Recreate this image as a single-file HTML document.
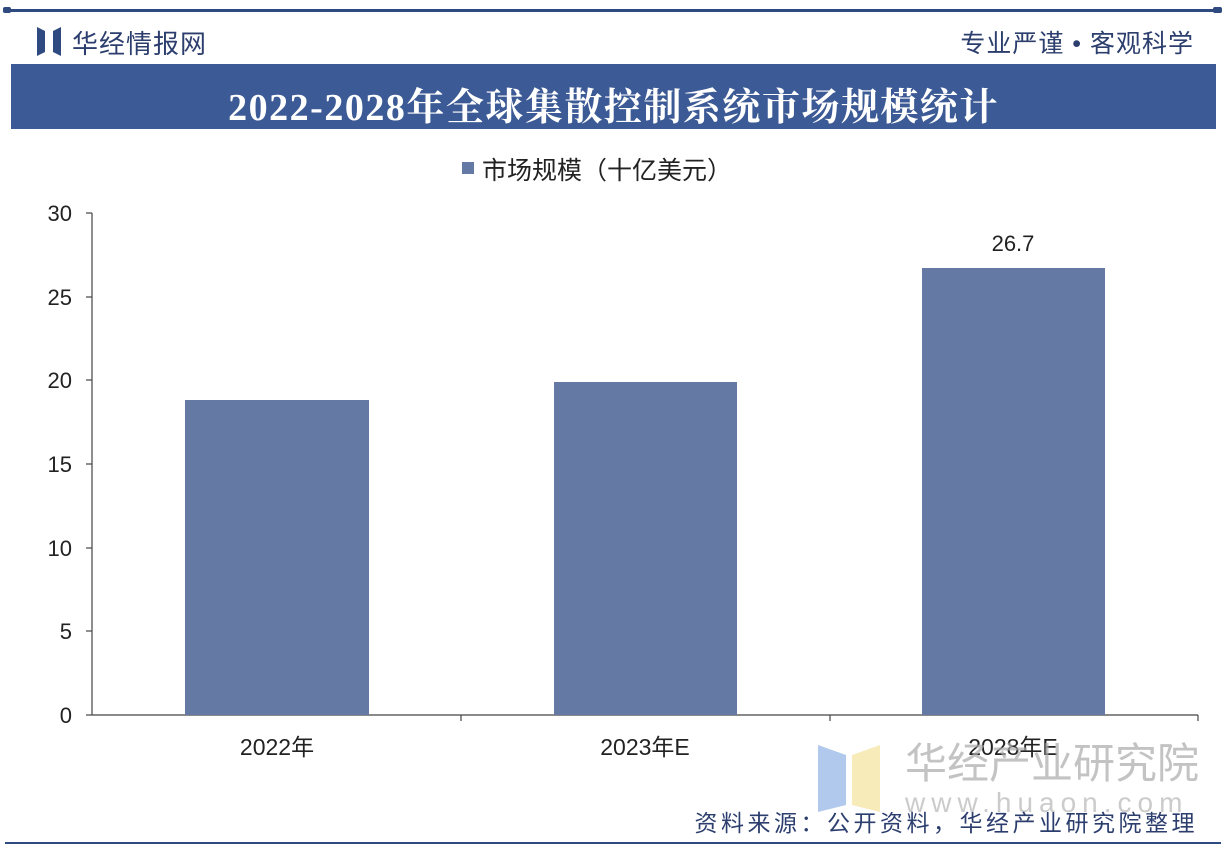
<!DOCTYPE html>
<html><head><meta charset="utf-8"><style>
body{margin:0;width:1226px;height:854px;background:#fff;position:relative;overflow:hidden;font-family:"Liberation Sans","Noto Sans CJK SC",sans-serif;}
.a{position:absolute}
</style></head><body>
<div class="a" style="left:5px;top:9px;width:1216px;height:3px;background:#2f4a80"></div>
<div class="a" style="left:3px;top:7px;width:8px;height:6px;background:#2f4a80;border-radius:2px"></div>
<div class="a" style="left:1213px;top:7px;width:9px;height:6px;background:#2f4a80;border-radius:2px"></div>
<svg class="a" style="left:37px;top:27px" width="24" height="29"><polygon points="0,0 8,4 8,25 0,29" fill="#2f4a80"/><polygon points="24,0 16,4 16,25 24,29" fill="#2f4a80"/></svg>
<div class="a" style="left:72px;top:24px;font-size:26px;color:#2c3e6e;letter-spacing:1px">华经情报网</div>
<div class="a" style="right:32px;top:24px;font-size:25px;color:#2c3e6e;letter-spacing:1px">专业严谨 • 客观科学</div>
<div class="a" style="left:11px;top:64px;width:1205px;height:65px;background:#3c5a95"></div>
<div class="a" style="left:11px;top:76px;width:1205px;text-align:center;font-family:'Liberation Serif','Noto Serif CJK SC',serif;font-weight:bold;font-size:38px;letter-spacing:1.5px;color:#fff">2022-2028年全球集散控制系统市场规模统计</div>
<div class="a" style="left:462px;top:162px;width:12px;height:12px;background:#6479a3"></div>
<div class="a" style="left:482px;top:151px;font-size:25px;color:#222">市场规模（十亿美元）</div>
<svg class="a" style="left:0;top:0" width="1226" height="854">
<g stroke="#444" stroke-width="1.2">
<line x1="92" y1="213" x2="92" y2="715"/>
<line x1="92" y1="715" x2="1198" y2="715"/>
<line x1="86" y1="213" x2="92" y2="213"/><line x1="86" y1="297" x2="92" y2="297"/><line x1="86" y1="380" x2="92" y2="380"/><line x1="86" y1="464" x2="92" y2="464"/><line x1="86" y1="548" x2="92" y2="548"/><line x1="86" y1="631" x2="92" y2="631"/><line x1="86" y1="715" x2="92" y2="715"/>
<line x1="461" y1="715" x2="461" y2="721"/><line x1="830" y1="715" x2="830" y2="721"/><line x1="1198" y1="715" x2="1198" y2="721"/>
</g>
<g fill="#6479a3">
<rect x="185" y="400" width="184" height="315"/>
<rect x="554" y="382" width="183" height="333"/>
<rect x="922" y="268" width="183" height="447"/>
</g>
<g font-size="22" fill="#222" text-anchor="end" font-family="Liberation Sans,sans-serif">
<text x="72" y="221">30</text><text x="72" y="305">25</text><text x="72" y="388">20</text><text x="72" y="472">15</text><text x="72" y="556">10</text><text x="72" y="639">5</text><text x="72" y="723">0</text>
</g>
<text x="1013" y="251" font-size="22" fill="#222" text-anchor="middle">26.7</text>
<g font-size="23" fill="#222" text-anchor="middle" font-family="Liberation Sans,Noto Sans CJK SC,sans-serif">
<text x="277" y="755">2022年</text><text x="645" y="755">2023年E</text><text x="1013" y="755">2028年E</text>
</g>
<polygon points="818,745 846,755 846,805 818,812" fill="#9cbbe8" opacity="0.8"/>
<polygon points="880,745 852,755 852,805 880,812" fill="#f5e6a8" opacity="0.8"/>
<text x="905" y="778" font-size="42" fill="#aaa" opacity="0.7" font-family="Noto Sans CJK SC,sans-serif">华经产业研究院</text>
<text x="905" y="812" font-size="28" fill="#aaa" opacity="0.6" letter-spacing="6">www.huaon.com</text>
<line x1="5" y1="843" x2="1221" y2="843" stroke="#2f4a80" stroke-width="2"/>
</svg>
<div class="a" style="right:28px;top:804px;font-size:23px;color:#2c3e6e;letter-spacing:3.5px">资料来源：公开资料，华经产业研究院整理</div>
</body></html>
